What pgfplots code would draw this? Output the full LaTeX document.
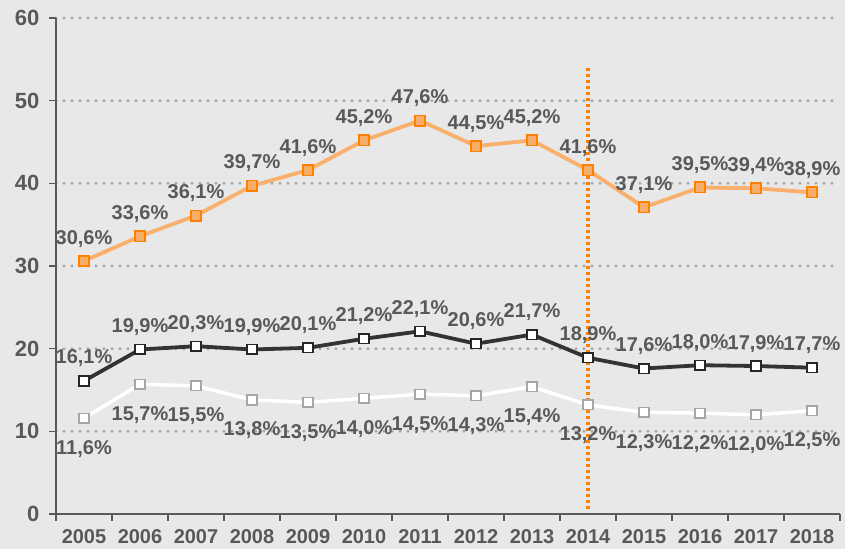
\documentclass[border=0pt]{standalone}
\usepackage{fontspec}
\setmainfont{Liberation Sans}
\usepackage{pgfplots}
\usepackage{pgfplotstable}
\pgfplotsset{compat=1.18}
\definecolor{bg}{HTML}{E8E8E8}
\definecolor{txt}{HTML}{595959}
\definecolor{gridc}{HTML}{A6A6A6}
\definecolor{oline}{HTML}{F9B06C}
\definecolor{ofill}{HTML}{F8AD68}
\definecolor{oedge}{HTML}{FF7F00}
\definecolor{kline}{HTML}{333333}
\definecolor{kedge}{HTML}{262626}
\definecolor{wedge}{HTML}{A6A6A6}

\pgfplotstableread{
x o b w
0 30.6 16.1 11.6
1 33.6 19.9 15.7
2 36.1 20.3 15.5
3 39.7 19.9 13.8
4 41.6 20.1 13.5
5 45.2 21.2 14.0
6 47.6 22.1 14.5
7 44.5 20.6 14.3
8 45.2 21.7 15.4
9 41.6 18.9 13.2
10 37.1 17.6 12.3
11 39.5 18.0 12.2
12 39.4 17.9 12.0
13 38.9 17.7 12.5
}\data

\pgfplotsset{
  lbl/.style={
    nodes near coords={\pgfmathprintnumber[fixed,fixed zerofill,precision=1,use comma]{\pgfplotspointmeta}\%},
    every node near coord/.append style={font=\fontsize{20}{24}\selectfont\bfseries, text=txt, anchor=base, inner sep=0pt, yshift=#1}
  }
}

\begin{document}
\begin{tikzpicture}[x=1pt,y=1pt]
\fill[bg] (-56,-35) rectangle (789,514);
\useasboundingbox (-56,-35) rectangle (789,514);
\begin{axis}[
  at={(0,0)}, anchor=south west, scale only axis,
  width=784pt, height=496pt,
  xmin=-0.5, xmax=13.5, ymin=0, ymax=60,
  clip=false,
  axis x line*=bottom, axis y line*=left,
  axis line style={-, txt, line width=1.6pt},
  xtick={0,...,13},
  xticklabels={2005,2006,2007,2008,2009,2010,2011,2012,2013,2014,2015,2016,2017,2018},
  minor xtick={-0.5,0.5,...,13.5},
  ytick={10,20,...,60},
  extra y ticks={0}, extra y tick style={grid=none},
  ymajorgrids,
  major grid style={gridc, line width=3.2pt, line cap=round, dash pattern=on 0pt off 8pt},
  tick align=outside, major tick length=7pt, minor tick length=7pt,
  tick style={txt, line width=1.4pt},
  major x tick style={draw=none},
  tick label style={font=\fontsize{20}{24}\selectfont\bfseries, text=txt},
  yticklabel style={font=\fontsize{22}{26}\selectfont\bfseries, xshift=-6pt},
  xticklabel style={yshift=-5pt},
  /pgf/number format/assume math mode=true,
]
\addplot[white, line width=3.5pt, mark=square*, mark size=4.8pt,
  mark options={fill=white, draw=wedge, line width=1.6pt, solid}, lbl=-36pt]
  table[x=x, y=w] {\data};
\addplot[kline, line width=3.8pt, mark=square*, mark size=4.8pt,
  mark options={fill=white, draw=kedge, line width=1.6pt, solid}, lbl=17pt]
  table[x=x, y=b] {\data};
\addplot[oline, line width=3.8pt, mark=square*, mark size=5.2pt,
  mark options={fill=ofill, draw=oedge, line width=1.6pt, solid}, lbl=17pt]
  table[x=x, y=o] {\data};
\addplot[oedge, line width=3.5pt, dash pattern=on 3pt off 3pt] coordinates {(9,0.6) (9,54)};
\end{axis}
\end{tikzpicture}
\end{document}
